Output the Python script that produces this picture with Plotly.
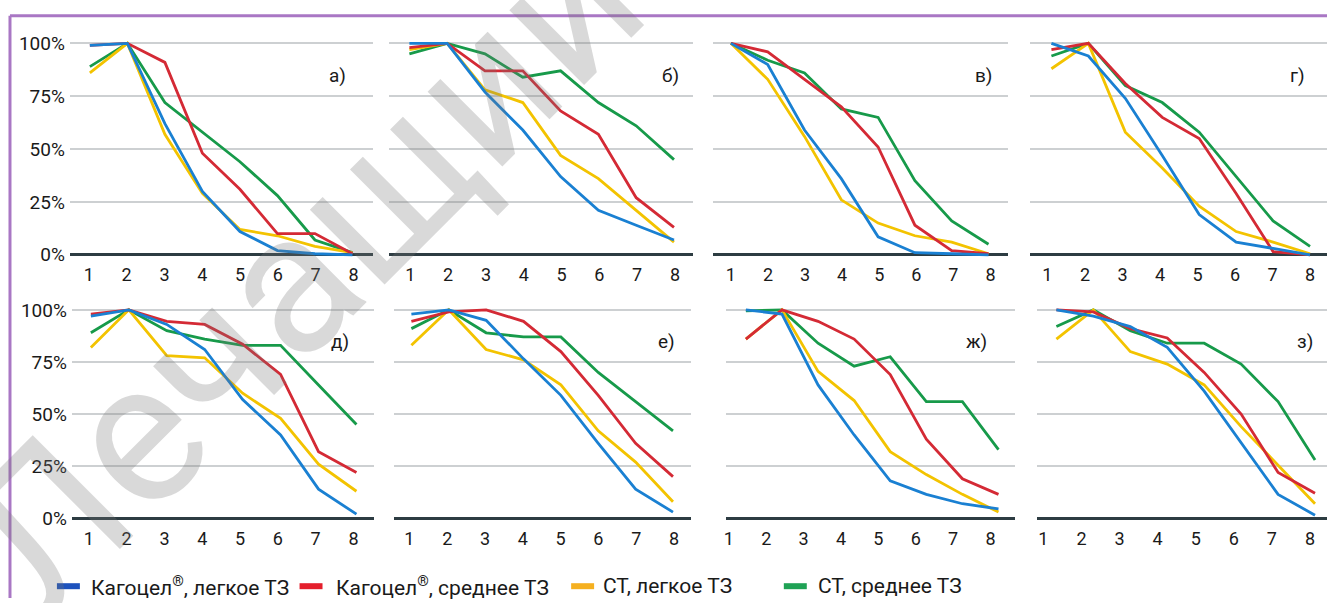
import plotly.graph_objects as go

W, H = 1327, 603

# ---------------- data ----------------
steps = [1, 2, 3, 4, 5, 6, 7, 8]
x_tick_text = ["1", "2", "3", "4", "5", "6", "7", "8"]
y_tick_vals = [0, 25, 50, 75, 100]
y_tick_text = ["0%", "25%", "50%", "75%", "100%"]

series_names = ["Кагоцел<sup>®</sup>, легкое ТЗ", "Кагоцел<sup>®</sup>, среднее ТЗ",
                "СТ, легкое ТЗ", "СТ, среднее ТЗ"]
panel_labels = ["а)", "б)", "в)", "г)", "д)", "е)", "ж)", "з)"]

# panel а
a_kag_light = [99, 100, 62, 30, 11, 2, 0.5, 0]
a_kag_mid = [99, 100, 91, 48, 31, 10, 10, 0.5]
a_st_light = [86, 100, 57, 29, 12, 9, 4, 1]
a_st_mid = [89, 100, 72, 58, 44, 28, 7, 1]
# panel б
b_kag_light = [100, 100, 77, 59, 37, 21, 14, 7]
b_kag_mid = [98, 100, 87, 87, 68, 57, 27, 13]
b_st_light = [97, 100, 78, 72, 47, 36, 21, 6]
b_st_mid = [95, 100, 95, 84, 87, 72, 61, 45]
# panel в
c_kag_light = [100, 90, 59, 36, 8.5, 1, 0.5, 0]
c_kag_mid = [100, 96, 83, 70, 51, 14, 2, 0.5]
c_st_light = [100, 83, 56, 26, 15, 9, 6, 0.5]
c_st_mid = [100, 92, 86, 69, 65, 35, 16, 5]
# panel г
d_kag_light = [100, 94, 74, 47, 19, 6, 3, 0]
d_kag_mid = [97, 100, 81, 65, 55, 29, 1.5, 0]
d_st_light = [88, 100, 58, 41, 23, 11, 6, 0.5]
d_st_mid = [94, 100, 80, 72, 58, 37, 16, 4]
# panel д
e_kag_light = [97, 100, 93, 81, 57, 40, 14, 2]
e_kag_mid = [98, 100, 94.5, 93, 83.5, 69, 32, 22]
e_st_light = [82, 100, 78, 77, 60, 48, 26, 13]
e_st_mid = [89, 100, 90, 86, 83, 83, 64, 45]
# panel е
f_kag_light = [98, 100, 95, 76.5, 59, 36, 14, 3]
f_kag_mid = [94.5, 99, 100, 94.5, 80, 59, 36, 20]
f_st_light = [83, 100, 81, 76, 64, 42, 27, 8]
f_st_mid = [91, 100, 89, 87, 87, 70, 56, 42]
# panel ж
g_kag_light = [100, 98, 64, 40, 18, 11.5, 7, 4.5]
g_kag_mid = [86, 100, 94.5, 86, 69, 38, 19, 11.5]
g_st_light = [86, 100, 70.5, 56.5, 32, 21, 11.5, 3]
g_st_mid = [99.5, 100, 84, 73, 77.5, 56, 56, 33]
# panel з
h_kag_light = [100, 97, 92, 82, 61, 36, 11.5, 1.5]
h_kag_mid = [100, 99, 91, 86.5, 70, 50, 22, 12]
h_st_light = [86, 100, 80, 74, 64, 44, 25.5, 7]
h_st_mid = [92, 100, 90, 84, 84, 74, 56, 28]

panels_data = [
    [a_kag_light, a_kag_mid, a_st_light, a_st_mid],
    [b_kag_light, b_kag_mid, b_st_light, b_st_mid],
    [c_kag_light, c_kag_mid, c_st_light, c_st_mid],
    [d_kag_light, d_kag_mid, d_st_light, d_st_mid],
    [e_kag_light, e_kag_mid, e_st_light, e_st_mid],
    [f_kag_light, f_kag_mid, f_st_light, f_st_mid],
    [g_kag_light, g_kag_mid, g_st_light, g_st_mid],
    [h_kag_light, h_kag_mid, h_st_light, h_st_mid],
]

# ---------------- styling / geometry ----------------
line_colors = ["#1a80d2", "#d42a35", "#f3c300", "#179a4a"]
legend_colors = ["#1d52bd", "#e41f2c", "#f5b020", "#1fa255"]
draw_order = [3, 2, 1, 0]

# (left px, right px, data-1 px, data-8 px, label-1 px, label-8 px)
geo = [
    (68, 372, 88, 351, 87, 352),
    (388, 692, 408, 673, 409, 674),
    (712, 1008, 730, 988, 730, 990),
    (1030, 1327, 1051, 1310, 1047, 1310),
    (70, 373, 89, 355, 87, 352),
    (393, 690, 410, 672, 408, 673),
    (725, 1015, 745, 998, 728, 990),
    (1037, 1327, 1056, 1315, 1043, 1310),
]
rows = [(39, 254), (310, 522)]  # (px of 100%, px of 0%)
label_pos = [(347, 72), (680, 72), (993, 72), (1307, 72),
             (350, 342), (676, 342), (988, 342), (1315, 342)]

YLO, YHI = -3, 103
FONT = "Roboto, 'Liberation Sans', Arial, sans-serif"

fig = go.Figure()
layout_axes = {}
annotations = []

for k in range(8):
    left, right, p1, p8, l1, l8 = geo[k]
    y100, y0 = rows[k // 4]
    unit = (p8 - p1) / 7.0
    xr = [1 - (p1 - left) / unit, 8 + (right - p8) / unit]
    tickvals = [1 + (l1 + (l8 - l1) * i / 7.0 - p1) / unit for i in range(8)]
    s = (y0 - y100) / 100.0
    ybot = y0 - YLO * s
    ytop = y100 - (YHI - 100) * s
    xd = [left / W, right / W]
    yd = [1 - ybot / H, 1 - ytop / H]
    idx = "" if k == 0 else str(k + 1)
    xa, ya = "x" + idx, "y" + idx

    for j in draw_order:
        fig.add_trace(go.Scatter(
            x=steps, y=panels_data[k][j], mode="lines", name=series_names[j],
            line=dict(color=line_colors[j], width=2.8),
            xaxis=xa, yaxis=ya, showlegend=False, hoverinfo="skip"))

    layout_axes["xaxis" + idx] = dict(
        domain=xd, range=xr, anchor=ya, tickmode="array", tickvals=tickvals,
        ticktext=x_tick_text, showgrid=False, zeroline=False, showline=False,
        ticks="", tickfont=dict(family=FONT, size=18, color="#1a1a1a"),
        ticklabelstandoff=1, fixedrange=True)
    layout_axes["yaxis" + idx] = dict(
        domain=yd, range=[YLO, YHI], anchor=xa, tickmode="array",
        tickvals=y_tick_vals, ticktext=y_tick_text,
        showticklabels=(k % 4 == 0), showgrid=True, gridcolor="#cdd0d2",
        gridwidth=2, zeroline=True, zerolinecolor="#2d3c42", zerolinewidth=3,
        showline=False, ticks="", ticklabelstandoff=4,
        tickfont=dict(family=FONT, size=19, color="#1a1a1a"), fixedrange=True)

    lx, ly = label_pos[k]
    annotations.append(dict(
        text=panel_labels[k], x=lx / W, y=1 - ly / H, xref="paper", yref="paper",
        xanchor="right", yanchor="middle", showarrow=False,
        font=dict(family=FONT, size=19, color="#1a1a1a")))

# legend (manual, bottom)
legend_bar_px = [(55, 78), (298, 321), (570, 593), (783, 806)]
legend_text_px = [87, 333, 600, 815]
legend_y = 591
shapes = []
for j in range(4):
    b0, b1 = legend_bar_px[j]
    shapes.append(dict(type="line", xref="paper", yref="paper",
                       x0=b0 / W, x1=b1 / W, y0=1 - legend_y / H, y1=1 - legend_y / H,
                       line=dict(color=legend_colors[j], width=6)))
    annotations.append(dict(
        text=series_names[j], x=legend_text_px[j] / W, y=1 - legend_y / H,
        xref="paper", yref="paper", xanchor="left", yanchor="middle",
        showarrow=False, font=dict(family=FONT, size=21, color="#1a1a1a")))

# watermark
annotations.append(dict(
    text="Лечащий", x=300 / W, y=1 - 270 / H, xref="paper", yref="paper",
    xanchor="center", yanchor="middle", showarrow=False, textangle=-45,
    font=dict(family=FONT, size=200, color="rgba(120,120,120,0.28)")))

# purple frame (top and left)
frame_color = "#a977c4"
shapes.append(dict(type="line", xref="paper", yref="paper",
                   x0=8 / W, x1=1.0, y0=1 - 11 / H, y1=1 - 11 / H,
                   line=dict(color=frame_color, width=3)))
shapes.append(dict(type="line", xref="paper", yref="paper",
                   x0=8 / W, x1=8 / W, y0=1 - 11 / H, y1=0,
                   line=dict(color=frame_color, width=3)))

fig.update_layout(
    width=W, height=H, margin=dict(l=0, r=0, t=0, b=0),
    paper_bgcolor="white", plot_bgcolor="white",
    showlegend=False, annotations=annotations, shapes=shapes,
    **layout_axes)

fig.write_html("out.html", config={"displayModeBar": False},
               post_script="document.body.style.margin='0';document.body.style.overflow='hidden';")
